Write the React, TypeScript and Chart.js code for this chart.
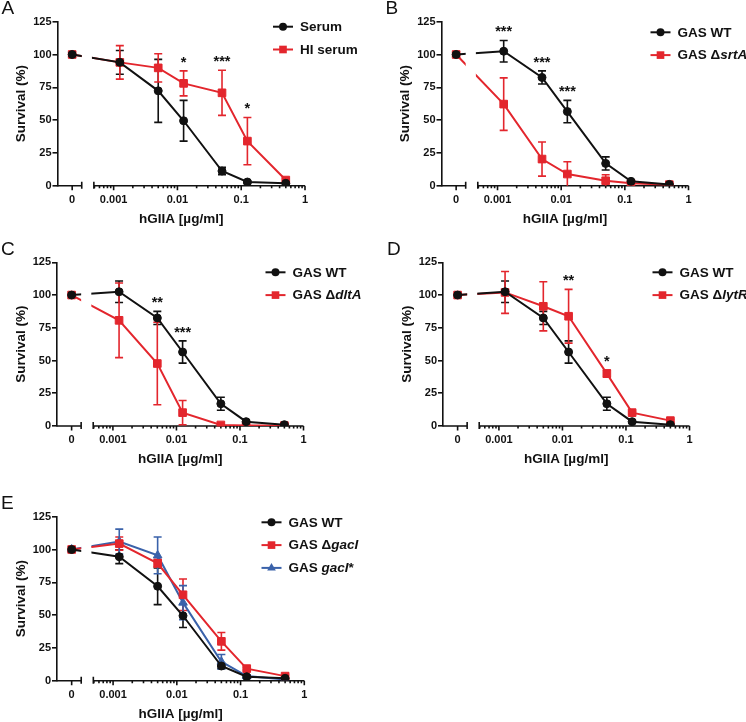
import React, { useEffect, useRef } from 'react';
import { Chart, registerables } from 'chart.js';

Chart.register(...registerables);

// ---------- data ----------
const CONC = [0, 0.00125, 0.005, 0.0125, 0.05, 0.125, 0.5];
const X_TICK_VALUES = [0, 0.001, 0.01, 0.1, 1];
const X_TICK_LABELS = ['0', '0.001', '0.01', '0.1', '1'];

const A_SERUM = [100, 94, 72.3, 49.5, 11.2, 2.8, 1.8];
const A_SERUM_SD = [0, 9, 24, 15.5, 2.8, 1, 0.5];
const A_HI = [100, 94, 89.8, 78, 70.8, 34, 4.3];
const A_HI_SD = [0, 12.8, 10.8, 9.5, 17.2, 18, 1];
const A_STARS = ['', '', '', '*', '***', '*', ''];

const WT = [100, 102.5, 82.5, 56.5, 17, 3.3, 1];
const WT_SD = [0, 8.2, 5, 8.5, 5, 1, 0.5];

const B_SRTA = [100, 62.2, 20.3, 8.9, 3.8, 1.8, 0.8];
const B_SRTA_SD = [0, 20, 13, 9.4, 4.6, 1, 0.5];
const B_STARS = ['', '***', '***', '***', '', '', ''];

const C_DLTA = [100, 80.7, 47.7, 10.2, 0.8, 0.3, 0.3];
const C_DLTA_SD = [0, 28.5, 31.5, 9.3, 0.5, 0.3, 0.3];
const C_STARS = ['', '', '**', '***', '', '', ''];

const D_LYTR = [100, 102, 91.4, 83.8, 40, 10.2, 4.1];
const D_LYTR_SD = [0, 16, 18.8, 20.5, 2.8, 1, 1];
const D_STARS = ['', '', '', '**', '*', '', ''];

const E_WT = [100, 94.5, 72, 49.5, 11.2, 3, 1.8];
const E_WT_SD = [0, 5.3, 14, 9, 2, 1, 0.5];
const E_GACI = [100, 104.5, 89.5, 65.5, 30, 9.2, 3.5];
const E_GACI_SD = [0, 5, 3, 12, 6.7, 1, 1];
const E_GACI_STAR = [100, 106, 95.5, 59.5, 14.5, 3.5, 1];
const E_GACI_STAR_SD = [0, 9.5, 14, 13, 5.5, 1, 0.5];
const E_STARS = ['', '', '', '', '', '', ''];

// ---------- styling / geometry ----------
const W = 746;
const H = 722;
const BLACK = '#111111';
const RED = '#e3262d';
const BLUE = '#3a62aa';
const FONT = "'Liberation Sans', Arial, Helvetica, sans-serif";

const X_MIN = -3.88;
const ZERO_POS = -3.65;
const ZERO_SEG_END = -3.5;
const LOG_SEG_START = -3.31;
const GAP_START = -3.5;
const GAP_END = -3.34;
const Y_AXIS_W = 50;
const X_AXIS_H = 44;

const toX = (c: number) => (c === 0 ? ZERO_POS : Math.log10(c));

type Series = { label: string; values: number[]; sd: number[]; color: string; shape: string; radius: number };
type Panel = {
  letter: string; L: number; R: number; T: number; B: number;
  legendDx: number; legendDy: number; series: Series[]; stars: string[];
};

const CIRCLE_R = 4;
const RECT_R = 5.4;
const TRI_R = 5;

const PANELS: Panel[] = [
  {
    letter: 'A', L: 57.5, R: 305, T: 21.7, B: 185.7, legendDx: 215.5, legendDy: 5,
    series: [
      { label: 'Serum', values: A_SERUM, sd: A_SERUM_SD, color: BLACK, shape: 'circle', radius: CIRCLE_R },
      { label: 'HI serum', values: A_HI, sd: A_HI_SD, color: RED, shape: 'rect', radius: RECT_R },
    ],
    stars: A_STARS,
  },
  {
    letter: 'B', L: 441.5, R: 688.5, T: 21.7, B: 185.7, legendDx: 209, legendDy: 10.6,
    series: [
      { label: 'GAS WT', values: WT, sd: WT_SD, color: BLACK, shape: 'circle', radius: CIRCLE_R },
      { label: 'GAS Δ_srtA_', values: B_SRTA, sd: B_SRTA_SD, color: RED, shape: 'rect', radius: RECT_R },
    ],
    stars: B_STARS,
  },
  {
    letter: 'C', L: 57, R: 303.5, T: 262.3, B: 426, legendDx: 208.5, legendDy: 10,
    series: [
      { label: 'GAS WT', values: WT, sd: WT_SD, color: BLACK, shape: 'circle', radius: CIRCLE_R },
      { label: 'GAS Δ_dltA_', values: C_DLTA, sd: C_DLTA_SD, color: RED, shape: 'rect', radius: RECT_R },
    ],
    stars: C_STARS,
  },
  {
    letter: 'D', L: 443, R: 689.5, T: 262.3, B: 426, legendDx: 209.5, legendDy: 10,
    series: [
      { label: 'GAS WT', values: WT, sd: WT_SD, color: BLACK, shape: 'circle', radius: CIRCLE_R },
      { label: 'GAS Δ_lytR_', values: D_LYTR, sd: D_LYTR_SD, color: RED, shape: 'rect', radius: RECT_R },
    ],
    stars: D_STARS,
  },
  {
    letter: 'E', L: 57, R: 304.3, T: 516.7, B: 680.7, legendDx: 204.5, legendDy: 5.6,
    series: [
      { label: 'GAS WT', values: E_WT, sd: E_WT_SD, color: BLACK, shape: 'circle', radius: CIRCLE_R },
      { label: 'GAS Δ_gacI_', values: E_GACI, sd: E_GACI_SD, color: RED, shape: 'rect', radius: RECT_R },
      { label: 'GAS _gacI_*', values: E_GACI_STAR, sd: E_GACI_STAR_SD, color: BLUE, shape: 'triangle', radius: TRI_R },
    ],
    stars: E_STARS,
  },
];

function drawMarker(ctx: CanvasRenderingContext2D, shape: string, x: number, y: number, r: number, color: string) {
  ctx.fillStyle = color;
  ctx.beginPath();
  if (shape === 'circle') {
    ctx.arc(x, y, r, 0, Math.PI * 2);
  } else if (shape === 'rect') {
    const s = Math.SQRT1_2 * r;
    ctx.rect(x - s, y - s, 2 * s, 2 * s);
  } else {
    let rad = 0;
    ctx.moveTo(x + Math.sin(rad) * r, y - Math.cos(rad) * r);
    rad += (2 * Math.PI) / 3;
    ctx.lineTo(x + Math.sin(rad) * r, y - Math.cos(rad) * r);
    rad += (2 * Math.PI) / 3;
    ctx.lineTo(x + Math.sin(rad) * r, y - Math.cos(rad) * r);
    ctx.closePath();
  }
  ctx.fill();
}

function drawRichText(ctx: CanvasRenderingContext2D, text: string, x: number, y: number) {
  const parts = text.split('_');
  let cx = x;
  parts.forEach((p, i) => {
    if (!p) return;
    ctx.font = (i % 2 === 1 ? 'italic ' : '') + 'bold 13.5px ' + FONT;
    ctx.fillText(p, cx, y);
    cx += ctx.measureText(p).width;
  });
}

function makePlugin(panel: Panel) {
  return {
    id: 'panelDecor' + panel.letter,
    beforeDatasetsDraw(chart: any) {
      const { ctx, chartArea: ca } = chart;
      const x = chart.scales.x;
      const y = chart.scales.y;
      const y0 = ca.bottom;
      ctx.save();
      ctx.strokeStyle = BLACK;
      ctx.lineWidth = 1.6;
      const zEnd = x.getPixelForValue(ZERO_SEG_END);
      const lStart = x.getPixelForValue(LOG_SEG_START);
      ctx.beginPath();
      ctx.moveTo(ca.left - 0.75, y0);
      ctx.lineTo(zEnd, y0);
      ctx.moveTo(zEnd, y0 - 4);
      ctx.lineTo(zEnd, y0 + 3);
      ctx.moveTo(lStart, y0);
      ctx.lineTo(ca.right, y0);
      ctx.moveTo(lStart, y0 - 4);
      ctx.lineTo(lStart, y0 + 3);
      const zp = x.getPixelForValue(ZERO_POS);
      ctx.moveTo(zp, y0);
      ctx.lineTo(zp, y0 + 4.5);
      for (let d = -4; d <= 0; d++) {
        for (let k = 1; k <= 9; k++) {
          const v = d + Math.log10(k);
          if (v < LOG_SEG_START - 1e-6 || v > 1e-6) continue;
          const px = x.getPixelForValue(v);
          ctx.moveTo(px, y0);
          ctx.lineTo(px, y0 + (k === 1 ? 4.5 : 2.5));
        }
      }
      ctx.stroke();

      // error bars
      ctx.lineWidth = 1.6;
      panel.series.forEach((s) => {
        ctx.strokeStyle = s.color;
        ctx.beginPath();
        s.values.forEach((v, i) => {
          const sd = s.sd[i];
          if (!sd) return;
          const px = x.getPixelForValue(toX(CONC[i]));
          const hiV = Math.min(v + sd, 125);
          const loV = Math.max(v - sd, 0);
          const top = y.getPixelForValue(hiV);
          const bot = y.getPixelForValue(loV);
          ctx.moveTo(px, top);
          ctx.lineTo(px, bot);
          ctx.moveTo(px - 4, top);
          ctx.lineTo(px + 4, top);
          if (v - sd > 0) {
            ctx.moveTo(px - 4, bot);
            ctx.lineTo(px + 4, bot);
          }
        });
        ctx.stroke();
      });
      ctx.restore();

      // clip away the axis break gap for the lines
      const gs = x.getPixelForValue(GAP_START);
      const ge = x.getPixelForValue(GAP_END);
      ctx.save();
      ctx.beginPath();
      ctx.rect(0, 0, gs, chart.height);
      ctx.rect(ge, 0, chart.width - ge, chart.height);
      ctx.clip();
    },
    afterDatasetsDraw(chart: any) {
      const { ctx, chartArea: ca } = chart;
      ctx.restore();
      const x = chart.scales.x;
      const y = chart.scales.y;
      ctx.save();
      // significance stars
      ctx.fillStyle = BLACK;
      ctx.font = 'bold 14.5px ' + FONT;
      ctx.textAlign = 'center';
      ctx.textBaseline = 'alphabetic';
      panel.stars.forEach((st, i) => {
        if (!st) return;
        let top = 0;
        panel.series.forEach((s) => {
          top = Math.max(top, s.values[i] + s.sd[i]);
        });
        const px = x.getPixelForValue(toX(CONC[i]));
        const py = y.getPixelForValue(top + 9.5);
        ctx.fillText(st, px, py + 8.3);
      });

      // legend
      ctx.textAlign = 'left';
      ctx.textBaseline = 'middle';
      panel.series.forEach((s, r) => {
        const cy = ca.top + panel.legendDy + r * 22.8;
        const lx = ca.left + panel.legendDx;
        ctx.strokeStyle = s.color;
        ctx.lineWidth = 2;
        ctx.beginPath();
        ctx.moveTo(lx, cy);
        ctx.lineTo(lx + 20, cy);
        ctx.stroke();
        drawMarker(ctx, s.shape, lx + 10, cy, s.radius, s.color);
        ctx.fillStyle = BLACK;
        drawRichText(ctx, s.label, lx + 27, cy + 0.5);
      });

      // panel letter
      ctx.textBaseline = 'alphabetic';
      ctx.font = '19px ' + FONT;
      ctx.fillStyle = BLACK;
      ctx.fillText(panel.letter, ca.left - 56, ca.top - 7.3);
      ctx.restore();
    },
  };
}

function PanelChart({ panel }: { panel: Panel }) {
  const ref = useRef<HTMLCanvasElement>(null);
  useEffect(() => {
    if (!ref.current) return;
    const tickFont = { family: FONT, weight: 'bold' as const, size: 11 };
    const titleFont = { family: FONT, weight: 'bold' as const, size: 13.5 };
    const chart = new Chart(ref.current, {
      type: 'line',
      data: {
        datasets: panel.series.map((s) => ({
          label: s.label,
          data: CONC.map((c, i) => ({ x: toX(c), y: s.values[i] })),
          borderColor: s.color,
          backgroundColor: s.color,
          pointBackgroundColor: s.color,
          pointBorderColor: s.color,
          pointStyle: s.shape,
          pointRadius: s.radius,
          pointBorderWidth: 1,
          borderWidth: 2,
          tension: 0,
        })),
      },
      options: {
        responsive: false,
        animation: false,
        events: [],
        layout: {
          padding: {
            left: panel.L - Y_AXIS_W,
            top: panel.T,
            right: W - panel.R,
            bottom: H - panel.B - X_AXIS_H,
          },
        },
        plugins: { legend: { display: false }, tooltip: { enabled: false } },
        scales: {
          x: {
            type: 'linear',
            min: X_MIN,
            max: 0,
            afterFit: (s: any) => {
              s.height = X_AXIS_H;
            },
            afterBuildTicks: (s: any) => {
              s.ticks = X_TICK_VALUES.map((v) => ({ value: toX(v) }));
            },
            ticks: {
              font: tickFont,
              color: BLACK,
              padding: 3.5,
              autoSkip: false,
              maxRotation: 0,
              callback: (_v: any, i: number) => X_TICK_LABELS[i],
            },
            grid: { drawOnChartArea: false, color: 'rgba(0,0,0,0)', tickLength: 4 },
            border: { display: false },
            title: {
              display: true,
              text: 'hGIIA [µg/ml]',
              font: titleFont,
              color: BLACK,
              padding: { top: 0, bottom: 2.5 },
            },
          },
          y: {
            min: 0,
            max: 125,
            afterFit: (s: any) => {
              s.width = Y_AXIS_W;
            },
            ticks: { stepSize: 25, font: tickFont, color: BLACK, padding: 1 },
            grid: { drawOnChartArea: false, color: BLACK, lineWidth: 1.6, tickLength: 5 },
            border: { display: true, color: BLACK, width: 1.6 },
            title: {
              display: true,
              text: 'Survival (%)',
              font: titleFont,
              color: BLACK,
              padding: { top: 5.7, bottom: 0 },
            },
          },
        },
      } as any,
      plugins: [makePlugin(panel)],
    });
    return () => chart.destroy();
  }, [panel]);
  return (
    <canvas
      ref={ref}
      width={W}
      height={H}
      style={{ position: 'absolute', left: 0, top: 0, width: W, height: H, display: 'block' }}
    />
  );
}

export default function App() {
  return (
    <div style={{ position: 'fixed', left: 0, top: 0, width: W, height: H, background: '#fff', overflow: 'hidden' }}>
      {PANELS.map((p) => (
        <PanelChart key={p.letter} panel={p} />
      ))}
    </div>
  );
}
